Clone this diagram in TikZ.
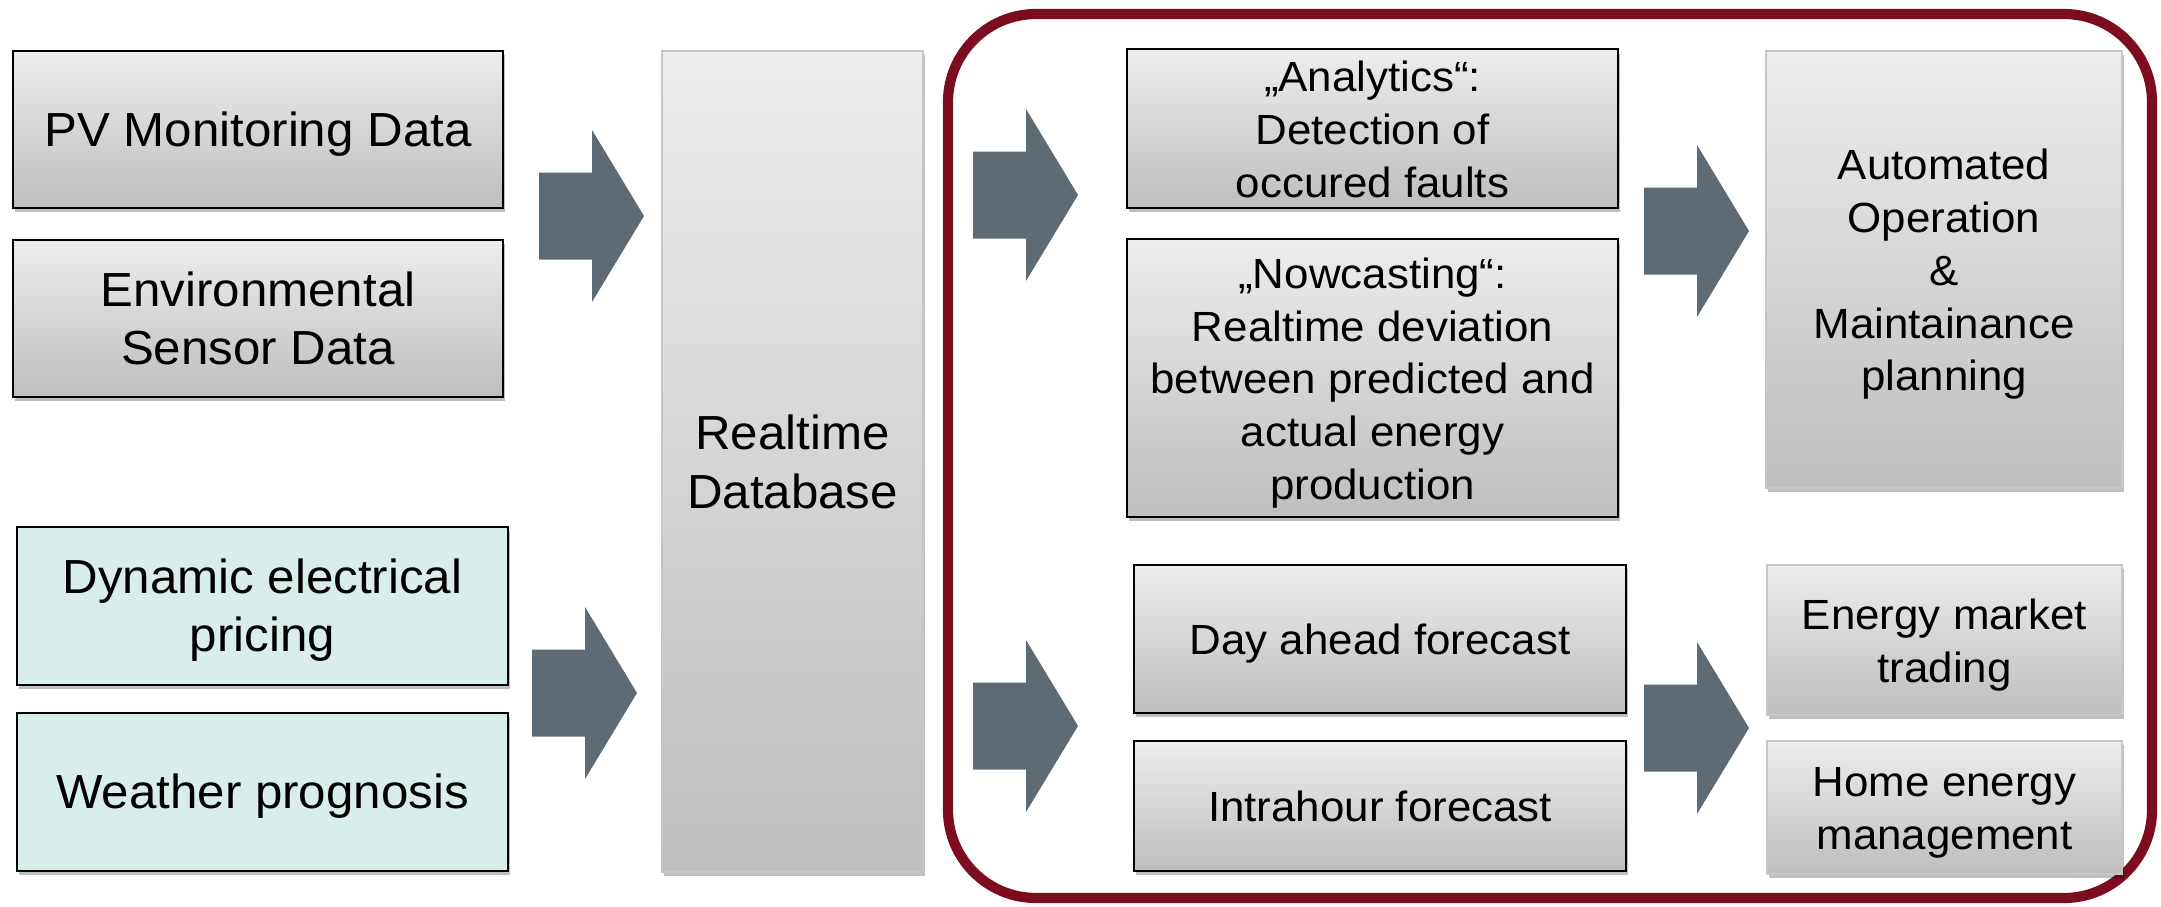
\documentclass[tikz,border=0pt]{standalone}
\usepackage{fontspec}
\setmainfont{Liberation Sans}
\newfontfamily\lfont{Liberation Sans}[FakeStretch=1.03]
\newfontfamily\rfont{Liberation Sans}[FakeStretch=1.04]
\usetikzlibrary{shadows}
\definecolor{gtop}{RGB}{237,237,237}
\definecolor{gbot}{RGB}{190,190,190}
\definecolor{tealfill}{RGB}{216,238,234}
\definecolor{arrowc}{RGB}{94,107,116}
\definecolor{framec}{RGB}{123,13,30}
\tikzset{
  base/.style={rectangle, inner sep=0pt, align=center,
    drop shadow={shadow xshift=0.6pt, shadow yshift=-1.2pt, opacity=0.25, fill=black}},
  graybox/.style={base, draw=black, line width=0.6pt, top color=gtop, bottom color=gbot},
  lightbox/.style={base, draw=black!22, line width=0.4pt, top color=gtop, bottom color=gbot},
  tealbox/.style={base, draw=black, line width=0.6pt, fill=tealfill},
  ltxt/.style={font={\lfont\fontsize{13.6}{16.5}\selectfont}},
  dbtxt/.style={font={\lfont\fontsize{13.6}{16.8}\selectfont}},
  rtxt/.style={font={\rfont\fontsize{12}{15}\selectfont}},
  blockarrow/.style={fill=arrowc},
  redframe/.style={draw=framec, line width=2.9pt, rounded corners=0.88cm},
}
\newcommand\bx[7]{\node[#6, minimum width={(#4-#2)*0.01cm}, minimum height={(#5-#3)*0.01cm}] (#1) at ({(#2+#4)/2},{(#3+#5)/2}) {\raisebox{-1.5pt}[\height][\depth]{\begin{tabular}{@{}c@{}}#7\end{tabular}}};}
\newcommand\barrow[2]{\fill[blockarrow] (#1,#2) ++(0,-43.5) -- ++(53,0) -- ++(0,-42.5) -- ++(52,86) -- ++(-52,86) -- ++(0,-42.5) -- ++(-53,0) -- cycle;}
\begin{document}
\begin{tikzpicture}[x=0.01cm, y=-0.01cm]
\path[use as bounding box] (0,0) rectangle (2161,906);
\draw[redframe] (948,14) rectangle (2152,898);
% left column
\bx{pv}{13}{51}{503}{208}{graybox,ltxt}{PV Monitoring Data}
\bx{env}{13}{240}{503}{397}{graybox,ltxt}{Environmental\\Sensor Data}
\bx{dyn}{17}{527}{508}{685}{tealbox,ltxt}{Dynamic electrical\\pricing}
\bx{wea}{17}{713}{508}{871}{tealbox,ltxt}{Weather prognosis}
\bx{db}{662}{51}{923}{872}{lightbox,dbtxt}{Realtime\\Database}
% middle column
\bx{ana}{1127}{50}{1618}{207}{graybox,rtxt}{„Analytics“:\\Detection of\\occured faults}
\bx{now}{1127}{239}{1618}{517}{graybox,rtxt}{„Nowcasting“:\\Realtime deviation\\between predicted and\\actual energy\\production}
\bx{day}{1134}{565}{1626}{713}{graybox,rtxt}{Day ahead forecast}
\bx{intra}{1134}{741}{1626}{871}{graybox,rtxt}{Intrahour forecast}
% right column
\bx{auto}{1766}{51}{2122}{488}{lightbox,rtxt}{Automated\\Operation\\\&\\Maintainance\\planning}
\bx{mkt}{1767}{565}{2122}{715}{lightbox,rtxt}{Energy market\\trading}
\bx{home}{1767}{741}{2122}{874}{lightbox,rtxt}{Home energy\\management}
% block arrows
\barrow{539}{216}
\barrow{532}{693}
\barrow{973}{195}
\barrow{1644}{231}
\barrow{973}{726}
\barrow{1644}{728}
\end{tikzpicture}
\end{document}
